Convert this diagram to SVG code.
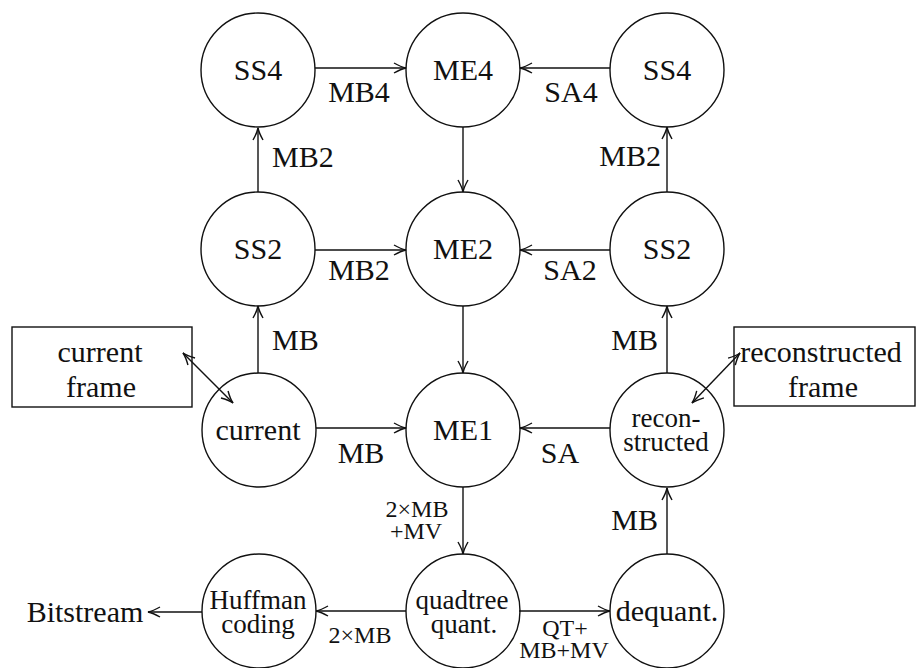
<svg xmlns="http://www.w3.org/2000/svg" width="919" height="668" viewBox="0 0 919 668">
<style>
text{font-family:"Liberation Serif","Times New Roman",serif;font-size:30px;fill:#111;text-anchor:middle}
.s{font-size:24px}
.m{font-size:27px}
.st{text-anchor:start}
.en{text-anchor:end}
circle,rect{fill:none;stroke:#111;stroke-width:1.4}
.e line{stroke:#111;stroke-width:1.4;marker-end:url(#a)}
.e line.d{marker-start:url(#a)}
</style>
<defs>
<marker id="a" markerWidth="14" markerHeight="12" refX="13" refY="6" orient="auto-start-reverse" markerUnits="userSpaceOnUse">
<path d="M1,1 Q8,5 13,6 Q8,7 1,11" fill="none" stroke="#111" stroke-width="1.4"/>
</marker>
</defs>
<rect width="919" height="668" fill="#fff" style="stroke:none"/>
<g id="ss4l"><circle cx="258" cy="70" r="57"/><text x="258" y="80">SS4</text></g>
<g id="me4"><circle cx="463" cy="70" r="57"/><text x="463" y="80">ME4</text></g>
<g id="ss4r"><circle cx="667" cy="70" r="57"/><text x="667" y="80">SS4</text></g>
<g id="ss2l"><circle cx="258" cy="249" r="57"/><text x="258" y="259">SS2</text></g>
<g id="me2"><circle cx="463" cy="249" r="57"/><text x="463" y="259">ME2</text></g>
<g id="ss2r"><circle cx="667" cy="249" r="57"/><text x="667" y="259">SS2</text></g>
<g id="current"><circle cx="259" cy="430" r="57"/><text x="258" y="440">current</text></g>
<g id="me1"><circle cx="463" cy="430" r="57"/><text x="463" y="440">ME1</text></g>
<g id="recon"><circle cx="667" cy="430" r="57"/><text class="m" x="666" y="427">recon-</text><text class="m" x="666" y="451">structed</text></g>
<g id="huffman"><circle cx="259" cy="611" r="57"/><text class="m" x="258" y="609">Huffman</text><text class="m" x="258" y="633">coding</text></g>
<g id="quadtree"><circle cx="463" cy="611" r="57"/><text class="m" x="462" y="609">quadtree</text><text class="m" x="464" y="633">quant.</text></g>
<g id="dequant"><circle cx="667" cy="611" r="57"/><text x="667" y="621">dequant.</text></g>
<g id="curframe"><rect x="12" y="327" width="180" height="80"/><text x="100" y="362">current</text><text x="101" y="397">frame</text></g>
<g id="recframe"><rect x="734" y="327" width="181" height="79"/><text x="821" y="362">reconstructed</text><text x="823" y="397">frame</text></g>
<g id="bitstream"><text x="85" y="622">Bitstream</text></g>
<g class="e" id="edges">
<line x1="315" y1="68" x2="406" y2="68"/>
<line x1="610" y1="68" x2="520" y2="68"/>
<line x1="258" y1="192" x2="258" y2="128"/>
<line x1="667" y1="192" x2="667" y2="127"/>
<line x1="463" y1="127" x2="463" y2="192"/>
<line x1="315" y1="250" x2="406" y2="250"/>
<line x1="610" y1="250" x2="520" y2="250"/>
<line x1="258" y1="373" x2="258" y2="306"/>
<line x1="667" y1="373" x2="667" y2="306"/>
<line x1="463" y1="306" x2="463" y2="373"/>
<line x1="316" y1="428" x2="406" y2="428"/>
<line x1="610" y1="428" x2="520" y2="428"/>
<line x1="463" y1="487" x2="463" y2="554"/>
<line x1="406" y1="611" x2="316" y2="611"/>
<line x1="519" y1="611" x2="610" y2="611"/>
<line x1="667" y1="554" x2="667" y2="488"/>
<line x1="202" y1="612" x2="148" y2="612"/>
<line class="d" x1="183" y1="353" x2="233" y2="403"/>
<line class="d" x1="740" y1="353" x2="692" y2="403"/>
</g>
<g id="labels">
<text x="359" y="102">MB4</text>
<text x="571" y="102">SA4</text>
<text x="359" y="280">MB2</text>
<text x="570" y="280">SA2</text>
<text x="361" y="463">MB</text>
<text x="560" y="463">SA</text>
<text class="st" x="272" y="167">MB2</text>
<text class="en" x="661" y="166">MB2</text>
<text class="st" x="272" y="350">MB</text>
<text class="en" x="658" y="350">MB</text>
<text class="en" x="658" y="530">MB</text>
<text class="s" x="417" y="517">2×MB</text>
<text class="s" x="416" y="539">+MV</text>
<text class="s" x="360" y="643">2×MB</text>
<text class="s" x="565" y="636">QT+</text>
<text class="s" x="564" y="658">MB+MV</text>
</g>
</svg>
